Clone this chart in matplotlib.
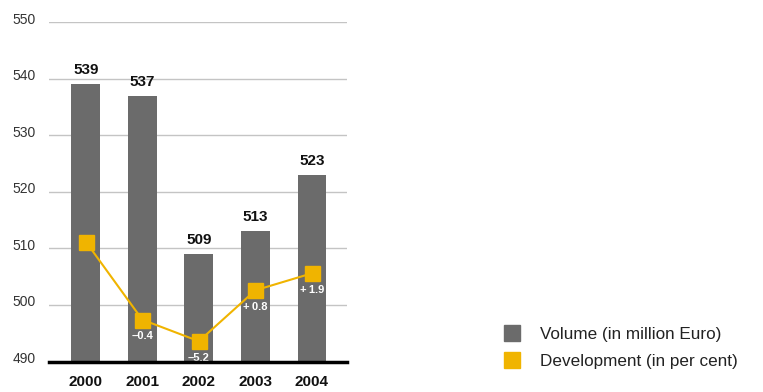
import matplotlib
matplotlib.use("Agg")
import matplotlib.pyplot as plt
import matplotlib.transforms as mtransforms
from matplotlib.lines import Line2D

years = ["2000", "2001", "2002", "2003", "2004"]
volume = [539, 537, 509, 513, 523]
# development marker heights as drawn (schematic, in volume-axis units)
dev_position = [511.2, 497.4, 493.6, 502.6, 505.6]
dev_labels = [None, "\u20130.4", "\u20135.2", "+\u20090.8", "+\u20091.9"]
y_ticks = [490, 500, 510, 520, 530, 540, 550]

bar_color = "#6b6b6b"
dev_color = "#f0b400"
grid_color = "#c4c4c4"

plt.rcParams['font.family'] = ['Liberation Sans', 'DejaVu Sans']

fig = plt.figure(figsize=(7.63, 3.92), dpi=100)
ax = fig.add_axes([49/763, 1 - 361.6/392, 298/763, (361.6 - 22)/392])

x = list(range(len(years)))
ax.set_xlim(-0.65, 4.62)

for t in y_ticks[1:]:
    ax.axhline(t, color=grid_color, lw=1.0, zorder=0)

ax.bar(x, volume, width=0.51, color=bar_color, zorder=2)
ax.set_ylim(490, 550)

for xi, v in zip(x, volume):
    ax.annotate(str(v), (xi, v), xytext=(0, 5), textcoords="offset points",
                ha="center", va="bottom", fontsize=11, fontweight="bold", color="#111111")

ax.plot(x, dev_position, color=dev_color, lw=1.5, marker="s", ms=10.8,
        zorder=3, clip_on=False)
for xi, p, lab in zip(x, dev_position, dev_labels):
    if lab:
        ax.annotate(lab, (xi, p), xytext=(0, -12), textcoords="offset points",
                    ha="center", va="center", fontsize=8, fontweight="bold",
                    color="white", zorder=4)

ax.axhline(490, color="black", lw=2.5, zorder=5, clip_on=False)

ax.set_yticks(y_ticks)
ax.set_yticklabels([str(t) for t in y_ticks], fontsize=10, color="#333333")
ax.set_xticks(x)
ax.set_xticklabels(years, fontsize=11, fontweight="bold", color="#111111")
ax.tick_params(axis="y", length=0, pad=9.5)
ax.tick_params(axis="x", length=0, pad=10)
shift = mtransforms.ScaledTranslation(0, 4/100, fig.dpi_scale_trans)
for lbl in ax.get_yticklabels():
    lbl.set_transform(lbl.get_transform() + shift)
for s in ax.spines.values():
    s.set_visible(False)

handles = [
    Line2D([], [], marker="s", ms=11.5, color=bar_color, ls="none"),
    Line2D([], [], marker="s", ms=11.5, color=dev_color, ls="none"),
]
fig.legend(handles, ["Volume (in million Euro)", "Development (in per cent)"],
           loc="center left", bbox_to_anchor=(500/763, 1 - 348/392),
           frameon=False, fontsize=12.3, labelspacing=0.75, handletextpad=0.98,
           handlelength=1.37, borderpad=0, borderaxespad=0, labelcolor="#222222")

fig.savefig("out.png", dpi=100)
